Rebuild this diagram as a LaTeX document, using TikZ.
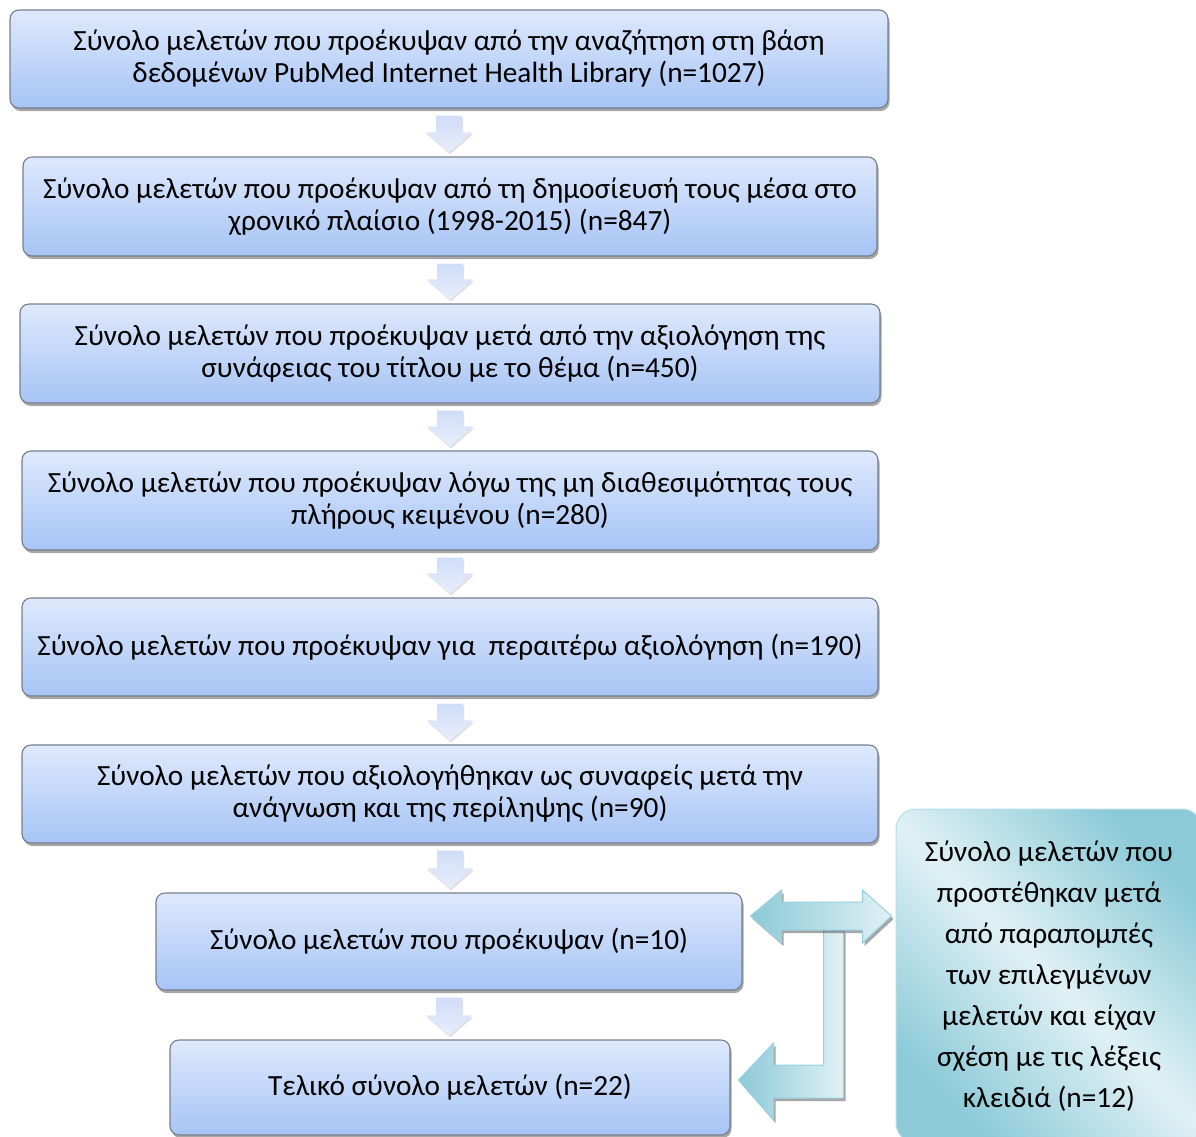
\documentclass[tikz,border=0pt]{standalone}
\usepackage{fontspec}
\setmainfont{Carlito}
\usetikzlibrary{calc,shadows}
\definecolor{boxtop}{RGB}{222,233,252}
\definecolor{boxbot}{RGB}{166,196,245}
\definecolor{boxline}{RGB}{118,126,140}
\definecolor{arrtop}{RGB}{208,221,248}
\definecolor{arrbot}{RGB}{232,238,252}
\definecolor{tealdark}{RGB}{140,202,216}
\definecolor{teallight}{RGB}{224,241,245}
\definecolor{tealline}{RGB}{150,208,222}
\tikzset{
  stagebox/.style={draw=boxline, line width=1.1pt, rounded corners=9pt,
    top color=boxtop, bottom color=boxbot, align=center,
    font=\fontsize{29.3}{32}\selectfont, inner sep=0pt,
    drop shadow={shadow xshift=1.5pt, shadow yshift=-3pt, opacity=0.35, fill=black}},
  sidebox/.style={draw=tealline!70!white, line width=1pt, rounded corners=20pt,
    top color=tealdark, bottom color=tealdark, middle color=teallight, shading angle=-45,
    align=center, font=\fontsize{29.3}{41}\selectfont, inner sep=0pt},
  downarrow/.style={top color=arrtop, bottom color=arrbot, draw=none,
    drop shadow={shadow xshift=1pt, shadow yshift=-2pt, opacity=0.12, fill=black}},
  bentarrow/.style={draw=tealline, line width=1pt, left color=tealdark, right color=teallight,
    drop shadow={shadow xshift=2pt, shadow yshift=-3pt, opacity=0.35, fill=black}}
}
\newcommand\myblockarrow[2]{%
  \path[downarrow] let \p1=(#1.south), \p2=(#2.north) in
    (\x1-13pt,\y1-7pt) -- (\x1+13pt,\y1-7pt) -- (\x1+13pt,\y2+24pt) -- (\x1+23pt,\y2+24pt)
    -- (\x1,\y2+4pt) -- (\x1-23pt,\y2+24pt) -- (\x1-13pt,\y2+24pt) -- cycle;}
\begin{document}
\begin{tikzpicture}[x=1pt,y=-1pt]
\useasboundingbox (0,0) rectangle (1196,1136);
\node[stagebox, minimum width=878, minimum height=98] (b1) at (449,59)
  {Σύνολο μελετών που προέκυψαν από την αναζήτηση στη βάση\\δεδομένων PubMed Internet Health Library (n=1027)};
\node[stagebox, minimum width=854, minimum height=99] (b2) at (450,206.5)
  {Σύνολο μελετών που προέκυψαν από τη δημοσίευσή τους μέσα στο\\χρονικό πλαίσιο (1998-2015) (n=847)};
\node[stagebox, minimum width=860, minimum height=99] (b3) at (450,353.5)
  {Σύνολο μελετών που προέκυψαν μετά από την αξιολόγηση της\\συνάφειας του τίτλου με το θέμα (n=450)};
\node[stagebox, minimum width=856, minimum height=99] (b4) at (450,500.5)
  {Σύνολο μελετών που προέκυψαν λόγω της μη διαθεσιμότητας τους\\πλήρους κειμένου (n=280)};
\node[stagebox, minimum width=856, minimum height=98] (b5) at (450,647)
  {Σύνολο μελετών που προέκυψαν για\ \ περαιτέρω αξιολόγηση (n=190)};
\node[stagebox, minimum width=856, minimum height=98] (b6) at (450,794)
  {Σύνολο μελετών που αξιολογήθηκαν ως συναφείς μετά την\\ανάγνωση και της περίληψης (n=90)};
\node[stagebox, minimum width=586, minimum height=97] (b7) at (449,941.5)
  {Σύνολο μελετών που προέκυψαν (n=10)};
\node[stagebox, minimum width=560, minimum height=95] (b8) at (450,1087.5)
  {Τελικό σύνολο μελετών (n=22)};
\node[sidebox, minimum width=306, minimum height=334] (r) at (1049,976)
  {Σύνολο μελετών που\\προστέθηκαν μετά\\από παραπομπές\\των επιλεγμένων\\μελετών και είχαν\\σχέση με τις λέξεις\\κλειδιά (n=12)};
\myblockarrow{b1}{b2}
\myblockarrow{b2}{b3}
\myblockarrow{b3}{b4}
\myblockarrow{b4}{b5}
\myblockarrow{b5}{b6}
\myblockarrow{b6}{b7}
\myblockarrow{b7}{b8}
% bent connectors
\coordinate (dL) at ($(b7.east)+(8,-25.5)$);
\coordinate (dR) at ($(dL -| r.west)+(-4,0)$);
\coordinate (eL) at ($(b8.east)+(8,-7.5)$);
\path[bentarrow] ($(dL)+(73,14)$) -- ++(20,0) -- ($(eL)+(105,18)$) -- ($(eL)+(35,18)$) -- ++(0,22)
  -- (eL) -- ++(35,-37) -- ++(0,22) -- ($(eL)+(85,-15)$) -- cycle;
\path[bentarrow] (dL) -- ++(31,-26) -- ++(0,12) -- ($(dR)+(-29,-14)$) -- ++(0,-12) -- (dR)
  -- ++(-29,27) -- ++(0,-13) -- ($(dL)+(31,14)$) -- ++(0,13) -- cycle;
\end{tikzpicture}
\end{document}
